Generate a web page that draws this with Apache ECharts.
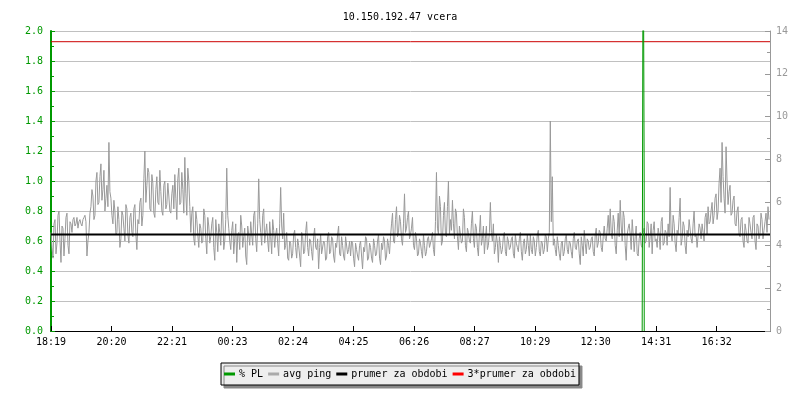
<!DOCTYPE html>
<html>
<head>
  <meta charset="UTF-8">
  <title>10.150.192.47 vcera</title>
  <script src="https://cdn.jsdelivr.net/npm/echarts@6/dist/echarts.min.js"></script>
  <style>
    body { margin: 0; background: #fff; }
    #main { width: 800px; height: 400px; }
  </style>
</head>
<body>
  <div id="main"></div>
  <script type="text/javascript">
    // time axis: minutes since 18:19
    var startMinute = 18 * 60 + 19;
    var stepMinutes = 4;      // pingA at 0,4,8..  pingB at 2,6,10..
    var tickMinutes = 121.2;

    // avg ping [ms] (even samples)
    var pingA = [
      4.6, 3.4, 5.2, 4.1, 5.6, 3.2, 4.8, 4.3, 5.5, 3.6,
      5.0, 5.2, 4.9, 5.3, 5.1, 5.0, 5.2, 5.4, 3.5, 4.6,
      5.8, 6.3, 5.4, 7.4, 6.0, 7.8, 6.6, 5.6, 6.8, 8.8,
      6.2, 5.0, 5.6, 4.6, 5.2, 4.3, 5.4, 4.2, 5.7, 4.1,
      5.5, 4.4, 5.9, 3.8, 5.0, 6.2, 5.4, 8.4, 6.8, 7.4,
      5.6, 6.9, 5.3, 7.2, 5.9, 6.5, 5.4, 7.0, 5.9, 6.3,
      5.5, 6.8, 7.3, 5.2, 7.6, 6.0, 6.6, 8.1, 5.4, 7.0,
      4.6, 5.8, 4.0, 5.2, 3.9, 4.8, 4.2, 5.4, 3.6, 4.9,
      4.4, 5.3, 3.3, 4.6, 5.0, 4.0, 5.5, 4.2, 7.6, 4.8,
      3.8, 5.1, 4.3, 3.2, 4.6, 5.4, 3.9, 4.8, 3.1, 4.5,
      5.1, 4.0, 5.6, 3.7, 7.1, 4.6, 5.4, 4.1, 5.0, 3.7,
      4.4, 5.2, 3.9, 4.8, 3.5, 6.7, 4.3, 3.8, 4.6, 3.3,
      4.1, 3.6, 4.7, 3.4, 4.0, 3.0, 4.4, 3.7, 5.1, 3.5,
      4.2, 3.3, 4.8, 3.8, 2.9, 4.5, 3.6, 4.1, 3.4, 4.6,
      3.7, 4.3, 3.2, 3.9, 4.9, 3.5, 4.0, 3.3, 4.4, 3.8,
      3.5, 4.1, 3.0, 3.8, 3.3, 4.2, 2.9, 3.7, 4.3, 3.4,
      3.9, 3.2, 4.0, 3.6, 4.5, 3.1, 3.8, 4.2, 3.5, 4.0,
      4.4, 5.5, 4.1, 5.8, 4.6, 5.1, 4.0, 6.4, 4.8, 5.6,
      4.5, 5.3, 3.8, 4.3, 3.6, 4.1, 3.4, 4.0, 3.7, 4.4,
      3.9, 4.6, 3.5, 7.4, 4.5, 5.8, 4.2, 6.0, 4.4, 7.0,
      5.2, 6.1, 4.3, 5.5, 3.8, 4.9, 4.2, 5.3, 3.7, 4.6,
      4.1, 5.6, 3.9, 4.8, 3.5, 5.4, 4.3, 3.6, 4.9, 4.0,
      6.0, 4.2, 3.6, 4.5, 3.2, 4.0, 3.8, 4.6, 3.5, 4.2,
      3.9, 4.4, 3.4, 4.1, 3.7, 4.6, 3.3, 4.3, 3.8, 4.0,
      4.5, 3.6, 4.2, 3.9, 4.7, 3.5, 4.1, 3.8, 4.4, 4.3,
      9.8, 7.2, 4.3, 3.5, 4.0, 3.3, 4.2, 3.7, 4.5, 3.6,
      4.1, 3.4, 4.6, 3.8, 4.3, 3.1, 4.0, 4.7, 3.6, 4.2,
      3.9, 4.4, 3.5, 4.8, 4.1, 4.6, 3.7, 4.9, 4.2, 5.4,
      5.7, 4.3, 5.1, 3.6, 5.5, 6.1, 4.2, 5.3, 3.3, 4.8,
      4.5, 5.2, 3.7, 4.9, 3.5, 4.6, 3.9, 4.8, 4.2, 5.0,
      4.4, 3.6, 5.1, 4.3, 4.8, 3.8, 5.3, 4.1, 4.6, 5.0,
      6.7, 4.2, 5.0, 3.7, 4.5, 6.2, 4.3, 4.9, 3.6, 4.4,
      5.2, 4.1, 5.6, 4.5, 3.9, 4.8, 5.0, 4.2, 5.5, 5.8,
      5.1, 6.0, 5.4, 6.4, 5.6, 7.6, 8.8, 6.2, 8.6, 5.9,
      6.8, 5.5, 6.3, 4.9, 5.8, 4.4, 5.3, 3.9, 4.7, 4.1,
      5.0, 4.3, 5.4, 3.8, 4.9, 4.5, 5.2, 4.7, 5.5, 5.8
    ];

    // avg ping [ms] (odd samples, in between the ones above)
    var pingB = [
      3.9, 5.0, 3.6, 5.4, 4.2, 4.9, 3.5, 5.3, 4.0, 5.1,
      4.6, 5.3, 5.0, 4.8, 5.2, 4.9, 5.3, 5.1, 4.2, 5.5,
      6.6, 5.2, 7.0, 5.9, 7.2, 6.1, 7.5, 6.2, 5.8, 6.5,
      5.4, 6.1, 4.5, 5.8, 3.9, 5.6, 4.8, 5.9, 4.5, 5.3,
      4.6, 5.7, 4.5, 5.2, 6.0, 4.9, 7.1, 6.0, 7.6, 5.7,
      7.3, 5.5, 6.6, 6.0, 7.5, 5.6, 6.8, 5.7, 6.9, 5.6,
      6.4, 5.7, 6.2, 7.1, 5.9, 7.4, 5.5, 6.4, 7.6, 5.8,
      5.5, 4.3, 5.6, 4.5, 5.0, 4.1, 5.7, 4.3, 5.3, 4.1,
      5.0, 3.9, 5.2, 3.7, 4.6, 5.6, 3.8, 5.2, 5.4, 4.2,
      4.7, 3.6, 5.0, 4.5, 3.8, 4.9, 4.4, 3.5, 4.9, 4.0,
      4.5, 5.4, 4.3, 5.0, 5.2, 4.0, 5.7, 4.6, 4.2, 5.1,
      3.6, 4.7, 4.5, 4.1, 5.0, 4.9, 5.5, 4.0, 3.4, 4.2,
      3.4, 4.5, 3.9, 4.3, 3.5, 4.6, 3.6, 4.6, 3.9, 4.3,
      3.7, 4.4, 3.9, 4.3, 3.9, 3.6, 4.2, 3.3, 4.4, 3.6,
      4.4, 3.5, 4.1, 4.5, 3.6, 4.4, 3.5, 4.4, 3.6, 4.2,
      4.2, 3.4, 4.1, 3.5, 4.0, 3.5, 3.9, 4.4, 3.3, 4.1,
      3.4, 4.3, 3.5, 4.2, 3.4, 4.1, 4.4, 3.3, 4.3, 3.6,
      5.0, 4.2, 5.2, 4.4, 5.4, 4.3, 5.0, 4.6, 5.3, 4.3,
      4.8, 4.0, 4.6, 3.5, 4.3, 3.7, 4.5, 3.5, 4.3, 3.9,
      4.3, 3.8, 5.1, 4.8, 6.3, 4.0, 5.4, 4.5, 5.8, 4.5,
      4.7, 5.0, 5.7, 4.4, 4.9, 4.1, 5.7, 4.0, 4.8, 4.2,
      5.0, 4.3, 5.0, 3.9, 4.6, 4.0, 4.9, 4.3, 3.8, 4.6,
      4.6, 5.0, 3.9, 4.1, 4.4, 3.6, 4.4, 3.7, 4.4, 3.8,
      4.3, 3.6, 4.5, 3.9, 4.3, 3.7, 4.1, 3.6, 4.5, 3.5,
      3.8, 4.4, 3.5, 4.5, 3.7, 4.2, 3.6, 4.5, 3.7, 4.6,
      5.1, 4.0, 3.8, 4.4, 3.6, 4.1, 3.5, 4.3, 3.8, 4.2,
      3.7, 4.3, 3.9, 4.2, 3.6, 4.4, 3.5, 4.1, 4.3, 3.8,
      4.3, 3.7, 4.5, 3.9, 4.7, 3.9, 4.4, 4.3, 4.8, 4.5,
      4.6, 5.4, 4.0, 4.7, 4.4, 4.9, 5.6, 4.0, 4.5, 5.0,
      3.8, 4.5, 4.4, 3.6, 4.3, 4.0, 4.6, 4.1, 5.1, 3.9,
      5.0, 4.7, 4.2, 3.9, 4.5, 5.1, 4.0, 4.7, 4.0, 4.4,
      4.5, 5.4, 4.1, 4.7, 5.3, 4.0, 5.1, 4.0, 4.7, 5.2,
      4.3, 5.0, 4.4, 3.9, 5.0, 4.3, 4.6, 5.3, 4.5, 5.0,
      5.6, 5.0, 6.2, 5.2, 6.9, 6.0, 7.2, 5.5, 7.0, 6.5,
      5.4, 6.1, 5.0, 5.6, 4.5, 5.2, 4.2, 5.0, 4.2, 5.3,
      4.6, 5.3, 4.2, 5.0, 4.3, 5.5, 4.3, 5.1, 4.6, 5.2
    ];

    // packet loss [%], only the short outage around 14:05
    var plMinutes = [1184, 1186, 1188, 1188.1];
    var plValues = [0, 3.0, 1.0, 0];

    var meanPing = 4.5;
    var totalMinutes = 1440;

    function fmtTime(v) {
      var m = Math.round(startMinute + v) % 1440;
      var h = Math.floor(m / 60);
      var mm = m % 60;
      return (h < 10 ? '0' : '') + h + ':' + (mm < 10 ? '0' : '') + mm;
    }

    var pingData = [];
    for (var i = 0; i < pingA.length; i++) {
      pingData.push([i * stepMinutes, pingA[i]]);
      pingData.push([i * stepMinutes + stepMinutes / 2, pingB[i]]);
    }
    var plData = plValues.map(function (v, i) { return [plMinutes[i], v]; });

    var font = 'DejaVu Sans Mono';
    var myChart = echarts.init(document.getElementById('main'));

    var option = {
      animation: false,
      title: {
        text: '10.150.192.47 vcera',
        left: 'center',
        top: 7,
        textStyle: { fontFamily: font, fontSize: 10, fontWeight: 'normal', color: '#000' }
      },
      legend: {
        bottom: 15,
        left: 'center',
        itemWidth: 11,
        itemHeight: 3,
        itemGap: 5,
        padding: [6, 3],
        icon: 'rect',
        backgroundColor: '#eeeeee',
        borderColor: '#000',
        borderWidth: 1,
        shadowColor: '#888',
        shadowBlur: 0,
        shadowOffsetX: 3,
        shadowOffsetY: 3,
        textStyle: { fontFamily: font, fontSize: 10, color: '#000', padding: [0, 0, 0, -1] },
        data: [
          { name: '% PL', itemStyle: { color: '#009900' } },
          { name: 'avg ping', itemStyle: { color: '#aaaaaa' } },
          { name: 'prumer za obdobi', itemStyle: { color: '#000' } },
          { name: '3*prumer za obdobi', itemStyle: { color: '#ff0000' } }
        ]
      },
      grid: { left: 51, right: 30, top: 31, bottom: 69 },
      xAxis: {
        type: 'value',
        min: 0,
        max: totalMinutes,
        interval: tickMinutes,
        axisLine: { lineStyle: { color: '#000', width: 1 } },
        axisTick: { inside: true, length: 5, lineStyle: { color: '#000' } },
        axisLabel: {
          showMaxLabel: false,
          fontFamily: font, fontSize: 10, color: '#000', margin: 6,
          formatter: fmtTime
        },
        splitLine: { show: false }
      },
      yAxis: [{
        type: 'value',
        min: 0,
        max: 2,
        interval: 0.2,
        axisLine: { show: true, lineStyle: { color: '#009900', width: 2 } },
        axisTick: { show: true, inside: true, length: 4, lineStyle: { color: '#009900' } },
        minorTick: { show: true, splitNumber: 2, length: 3, lineStyle: { color: '#009900' } },
        axisLabel: {
          fontFamily: font, fontSize: 10, color: '#009900', margin: 8,
          formatter: function (v) { return v.toFixed(1); }
        },
        splitLine: { lineStyle: { color: '#c0c0c0', width: 1 } }
      }, {
        type: 'value',
        min: 0,
        max: 14,
        interval: 2,
        position: 'right',
        axisLine: { show: true, lineStyle: { color: '#999999', width: 1 } },
        axisTick: { show: true, inside: true, length: 5, lineStyle: { color: '#999999' } },
        minorTick: { show: true, splitNumber: 2, length: 3, lineStyle: { color: '#999999' } },
        axisLabel: { fontFamily: font, fontSize: 10, color: '#999999', margin: 6 },
        splitLine: { show: false }
      }],
      series: [{
        name: 'avg ping',
        type: 'line',
        yAxisIndex: 1,
        showSymbol: false,
        sampling: null,
        lineStyle: { color: '#999999', width: 1 },
        itemStyle: { color: '#999999' },
        data: pingData,
        z: 2
      }, {
        name: 'prumer za obdobi',
        type: 'line',
        yAxisIndex: 1,
        showSymbol: false,
        lineStyle: { color: '#000', width: 2 },
        itemStyle: { color: '#000' },
        data: [[0, meanPing], [totalMinutes, meanPing]],
        z: 3
      }, {
        name: '3*prumer za obdobi',
        type: 'line',
        yAxisIndex: 1,
        showSymbol: false,
        lineStyle: { color: '#cc0000', width: 1 },
        itemStyle: { color: '#cc0000' },
        data: [[0, meanPing * 3], [totalMinutes, meanPing * 3]],
        z: 3
      }, {
        name: '% PL',
        type: 'line',
        yAxisIndex: 0,
        showSymbol: false,
        clip: true,
        lineStyle: { color: '#009900', width: 1 },
        itemStyle: { color: '#009900' },
        data: plData,
        z: 4
      }]
    };

    myChart.setOption(option);
  </script>
</body>
</html>
